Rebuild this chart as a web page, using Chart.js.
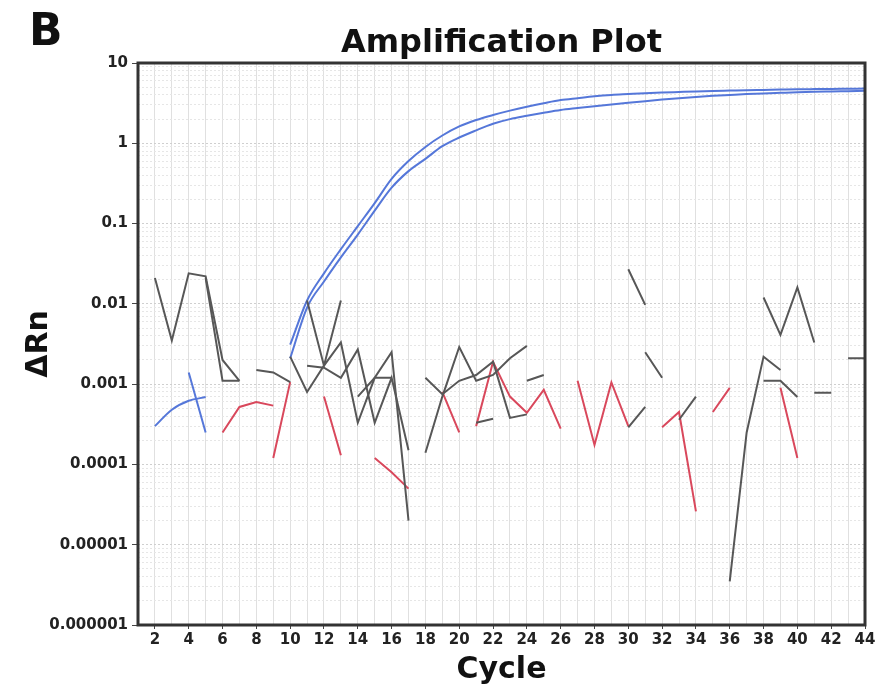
<!DOCTYPE html>
<html>
<head>
<meta charset="utf-8">
<script src="https://cdn.jsdelivr.net/npm/chart.js@4.4.1/dist/chart.umd.min.js"></script>
<style>
  html, body { margin: 0; padding: 0; background: #fff; }
  #wrap { position: relative; width: 881px; height: 689px; }
  #panel { position: absolute; left: 29px; top: 8px; font: bold 44px/1 "DejaVu Sans", sans-serif; color: #111; }
  #title { position: absolute; left: 138px; width: 727px; top: 25px; text-align: center;
           font: bold 32px/1 "DejaVu Sans", sans-serif; color: #111; }
</style>
</head>
<body>
<div id="wrap">
  <canvas id="chart" width="881" height="689"></canvas>
  <div id="panel">B</div>
  <div id="title">Amplification Plot</div>
</div>
<script>
// cycles for the two amplification curves
const cycles = [2, 3, 4, 5, 6, 7, 8, 9, 10, 11, 12, 13, 14, 15, 16, 17, 18, 19, 20, 21, 22, 23,
  24, 25, 26, 27, 28, 29, 30, 31, 32, 33, 34, 35, 36, 37, 38, 39, 40, 41, 42, 43, 44];
const cycleLabels = [2, 4, 6, 8, 10, 12, 14, 16, 18, 20, 22, 24, 26, 28, 30, 32, 34, 36, 38, 40, 42, 44];
const yTickLabels = ['10', '1', '0.1', '0.01', '0.001', '0.0001', '0.00001', '0.000001'];

// blue: positive samples (delta Rn per cycle, null = not plotted)
const ampUpper = [0.0003, 0.00048, 0.00062, 0.00069, null, null, null, null,
  0.0031, 0.011, 0.024, 0.048, 0.093, 0.18, 0.36, 0.6, 0.9, 1.25, 1.62, 1.95, 2.25, 2.55,
  2.85, 3.15, 3.45, 3.65, 3.85, 4.0, 4.1, 4.2, 4.28, 4.35, 4.42, 4.48, 4.53, 4.58, 4.62,
  4.66, 4.7, 4.73, 4.76, 4.78, 4.8];
const ampLower = [null, null, 0.0014, 0.00025, null, null, null, null,
  0.0021, 0.009, 0.019, 0.038, 0.073, 0.145, 0.28, 0.45, 0.64, 0.92, 1.18, 1.45, 1.75, 2.0,
  2.2, 2.4, 2.6, 2.75, 2.9, 3.05, 3.2, 3.35, 3.5, 3.65, 3.78, 3.9, 4.0, 4.1, 4.18,
  4.25, 4.32, 4.38, 4.42, 4.46, 4.5];

// grey: negative controls, [cycle, value] (null breaks the line)
const grey1 = [[2, 0.021], [3, 0.0035], [4, 0.024], [5, 0.022], [6, 0.002], [7, 0.0011], [8, null],
  [11, 0.011], [12, 0.0017], [13, 0.0033], [14, 0.00033], [15, 0.0012], [16, 0.0025], [17, 0.00002], [18, null],
  [30, 0.027], [31, 0.0097], [32, null],
  [36, 0.0000035], [37, 0.00025], [38, 0.0022], [39, 0.0015], [40, null],
  [41, 0.00078], [42, 0.00078]];
const grey2 = [[5, 0.021], [6, 0.0011], [7, 0.0011], [8, null],
  [10, 0.0022], [11, 0.0008], [12, 0.0017], [13, 0.011], [14, null],
  [18, 0.00014], [19, 0.0007], [20, 0.0029], [21, 0.0011], [22, 0.0013], [23, 0.0021], [24, 0.003], [25, null],
  [31, 0.0025], [32, 0.0012], [33, null],
  [38, 0.0011], [39, 0.0011], [40, 0.00069], [41, null],
  [43, 0.0021], [44, 0.0021]];
const grey3 = [[8, 0.0015], [9, 0.0014], [10, 0.00106], [10.5, null],
  [11, 0.0017], [12, 0.0016], [13, 0.0012], [14, 0.0027], [15, 0.00033], [16, 0.0012], [17, 0.00015], [17.5, null],
  [18, 0.0012], [19, 0.00075], [20, 0.0011], [21, 0.0013], [22, 0.0019], [23, 0.00038], [24, 0.00042], [25, null],
  [30, 0.00029], [31, 0.00052], [32, null],
  [33, 0.00036], [34, 0.0007]];
const grey4 = [[14, 0.0007], [15, 0.0012], [16, 0.0012], [17, null],
  [21, 0.00033], [22, 0.00037], [23, null],
  [24, 0.0011], [25, 0.0013], [26, null],
  [38, 0.012], [39, 0.0041], [40, 0.016], [41, 0.0033]];

// red: no template controls
const red1 = [[6, 0.00025], [7, 0.00052], [8, 0.0006], [9, 0.00054], [10, null],
  [12, 0.0007], [13, 0.00013], [14, null],
  [19, 0.0008], [20, 0.00025], [21, null],
  [27, 0.0011], [28, 0.000175], [29, 0.00105], [30, 0.0003], [31, null],
  [35, 0.00045], [36, 0.0009], [37, null],
  [39, 0.0009], [40, 0.00012]];
const red2 = [[9, 0.00012], [10, 0.00106], [11, null],
  [15, 0.00012], [16, 0.00008], [17, 0.00005], [18, null],
  [21, 0.0003], [22, 0.0019], [23, 0.0007], [24, 0.00044], [25, 0.00085], [26, 0.00028], [27, null],
  [32, 0.00029], [33, 0.00045], [34, 0.000026]];

const GREY = '#575757';
const RED = '#d9485c';
const BLUE = '#5577d9';
const FONT = '"DejaVu Sans", sans-serif';

function pairs(list) {
  return list.map(p => ({ x: p[0], y: p[1] }));
}
function series(values) {
  return values.map((v, i) => ({ x: cycles[i], y: v }));
}
function trace(data, color, smooth) {
  return {
    data: data,
    borderColor: color,
    borderWidth: 2,
    pointRadius: 0,
    tension: 0,
    cubicInterpolationMode: smooth ? 'monotone' : 'default',
    spanGaps: false
  };
}

function isDecade(v) {
  const l = Math.log10(v);
  return Math.abs(l - Math.round(l)) < 1e-6;
}

// thick box round the plot area
const framePlugin = {
  id: 'frame',
  afterDraw(chart) {
    const a = chart.chartArea;
    const ctx = chart.ctx;
    ctx.save();
    ctx.strokeStyle = '#333';
    ctx.lineWidth = 3;
    ctx.strokeRect(a.left, a.top, a.right - a.left, a.bottom - a.top);
    ctx.restore();
  }
};

new Chart(document.getElementById('chart'), {
  type: 'line',
  data: {
    datasets: [
      trace(pairs(grey1), GREY),
      trace(pairs(grey2), GREY),
      trace(pairs(grey3), GREY),
      trace(pairs(grey4), GREY),
      trace(pairs(red1), RED),
      trace(pairs(red2), RED),
      trace(series(ampUpper), BLUE, true),
      trace(series(ampLower), BLUE, true)
    ]
  },
  options: {
    responsive: false,
    animation: false,
    layout: { padding: { left: 0, right: 16, top: 63, bottom: 0 } },
    plugins: {
      legend: { display: false },
      tooltip: { enabled: false },
      title: { display: false }
    },
    scales: {
      x: {
        type: 'linear',
        min: 1,
        max: 44,
        afterFit(s) { s.height = 64; },
        ticks: {
          stepSize: 1,
          autoSkip: false,
          maxRotation: 0,
          padding: 2,
          color: '#222',
          font: { family: FONT, size: 15, weight: 'bold' },
          callback: v => cycleLabels.includes(v) ? String(v) : ''
        },
        grid: {
          color: '#e0e0e0',
          tickLength: 4,
          tickColor: ctx => cycleLabels.includes(ctx.tick && ctx.tick.value) ? '#444' : 'rgba(0,0,0,0)'
        },
        border: { display: false },
        title: {
          display: true,
          text: 'Cycle',
          color: '#111',
          font: { family: FONT, size: 30, weight: 'bold', lineHeight: 1 },
          padding: { top: 0, bottom: 4 }
        }
      },
      y: {
        type: 'logarithmic',
        min: 0.000001,
        max: 10,
        afterFit(s) { s.width = 138; },
        afterBuildTicks(s) {
          s.ticks = s.ticks.filter(t => {
            const m = t.value / Math.pow(10, Math.floor(Math.log10(t.value) + 1e-9));
            return Math.abs(m - Math.round(m)) < 1e-6;
          });
        },
        ticks: {
          autoSkip: false,
          padding: 4,
          color: '#222',
          font: { family: FONT, size: 15, weight: 'bold' },
          callback: v => isDecade(v) ? yTickLabels[1 - Math.round(Math.log10(v))] : ''
        },
        grid: {
          color: ctx => (ctx.tick && isDecade(ctx.tick.value)) ? '#cfcfcf' : '#e6e6e6',
          tickLength: 6,
          tickColor: ctx => (ctx.tick && isDecade(ctx.tick.value)) ? '#444' : 'rgba(0,0,0,0)'
        },
        border: { display: false, dash: [2, 2] },
        title: {
          display: true,
          text: 'ΔRn',
          color: '#111',
          font: { family: FONT, size: 30, weight: 'bold', lineHeight: 1 },
          padding: { top: 24, bottom: 0 }
        }
      }
    }
  },
  plugins: [framePlugin]
});
</script>
</body>
</html>
